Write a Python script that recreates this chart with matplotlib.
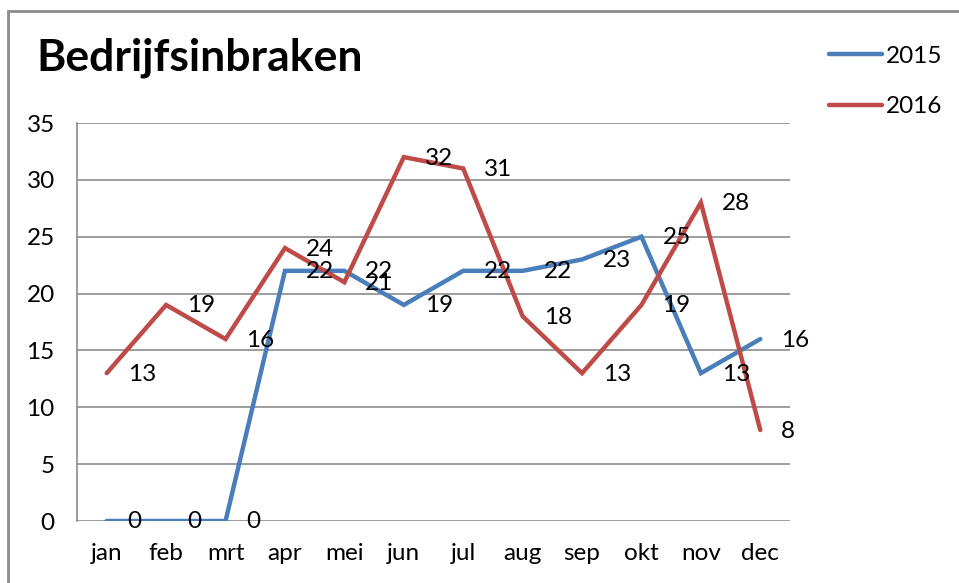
import matplotlib.pyplot as plt
from matplotlib.patches import Rectangle

plt.rcParams['font.family'] = ['Lato', 'DejaVu Sans']

months = ['jan', 'feb', 'mrt', 'apr', 'mei', 'jun', 'jul', 'aug', 'sep', 'okt', 'nov', 'dec']
y2015 = [0, 0, 0, 22, 22, 19, 22, 22, 23, 25, 13, 16]
y2016 = [13, 19, 16, 24, 21, 32, 31, 18, 13, 19, 28, 8]
yticks = [0, 5, 10, 15, 20, 25, 30, 35]

blue = '#4A7EBB'
red = '#BE4B48'
W, H = 959, 583
fs = 17.5

fig = plt.figure(figsize=(W / 100, H / 100), dpi=100)
ax = fig.add_axes([77 / W, 1 - 521 / H, 713 / W, 398 / H])

x = list(range(len(months)))
ax.plot(x, y2015, color=blue, lw=3.2, solid_capstyle='round', solid_joinstyle='miter', label='2015', zorder=3)
ax.plot(x, y2016, color=red, lw=3.2, solid_capstyle='round', solid_joinstyle='miter', label='2016', zorder=3)

# data labels to the right of each point
for xi, v in zip(x, y2015):
    ax.annotate(str(v), (xi, v), xytext=(21, -1), textcoords='offset pixels',
                ha='left', va='center', fontsize=fs, zorder=4)
for xi, v in zip(x, y2016):
    ax.annotate(str(v), (xi, v), xytext=(21, -1), textcoords='offset pixels',
                ha='left', va='center', fontsize=fs, zorder=4)

ax.set_xlim(-0.5, 11.5)
ax.set_ylim(0, 35)
ax.set_yticks(yticks)
ax.set_xticks(x)
ax.set_xticklabels(months)
ax.tick_params(axis='both', length=0, labelsize=fs)
ax.tick_params(axis='y', pad=16)
ax.tick_params(axis='x', pad=16)
ax.grid(axis='y', color='#8c8c8c', lw=1.2)
for s in ['top', 'right', 'bottom']:
    ax.spines[s].set_visible(False)
ax.spines['left'].set_color('#8c8c8c')
ax.spines['left'].set_linewidth(1.2)
ax.set_axisbelow(True)

fig.text(36 / W, 1 - 58 / H, 'Bedrijfsinbraken', fontsize=32, fontweight='bold', va='center', ha='left')

leg = fig.legend(loc='upper left', bbox_to_anchor=(807 / W, 1 - 24 / H), frameon=False,
                 fontsize=fs, handlelength=2.2, handletextpad=0.15, labelspacing=1.2)

# outer chart frame (cut off on right and bottom)
fig.patches.append(Rectangle((8 / W, -0.1), 1.2, 1 - 11 / H + 0.1, transform=fig.transFigure,
                             fill=False, edgecolor='#8c8c8c', lw=2))

fig.savefig('out.png', dpi=100)
